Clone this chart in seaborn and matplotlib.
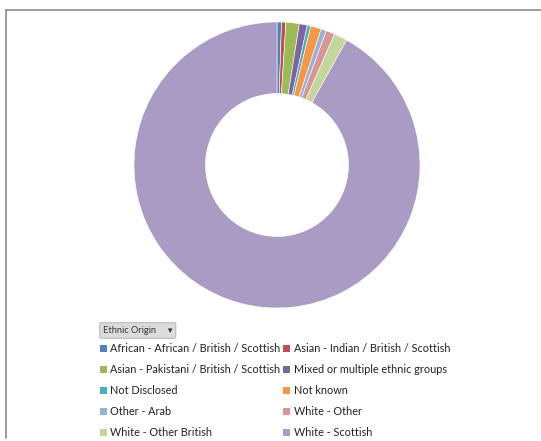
import matplotlib
matplotlib.use("Agg")
import matplotlib.pyplot as plt
import seaborn as sns
from matplotlib.patches import Patch
from matplotlib.lines import Line2D

sns.set_theme(style="white")
plt.rcParams['font.family'] = ['Lato', 'DejaVu Sans']

categories = [
    "African - African / British / Scottish",
    "Asian - Indian / British / Scottish",
    "Asian - Pakistani / British / Scottish",
    "Mixed or multiple ethnic groups",
    "Not Disclosed",
    "Not known",
    "Other - Arab",
    "White - Other",
    "White - Other British",
    "White - Scottish",
]
values = [0.5, 0.5, 1.5, 0.9, 0.4, 1.2, 0.6, 1.0, 1.5, 91.9]
colors = ["#4F81BD", "#C0504D", "#9BBB59", "#8064A2", "#4BACC6",
          "#F79646", "#95B3D7", "#D99694", "#C3D69B", "#A99BC4"]

W, H = 541, 441
fig = plt.figure(figsize=(W / 100, H / 100), dpi=100)

# frame lines (top and left)
fig.add_artist(Line2D([6 / W, 1], [1 - 10 / H, 1 - 10 / H], color="#8c8c8c", lw=1.2))
fig.add_artist(Line2D([6 / W, 6 / W], [1 - 10 / H, 1 - 438 / H], color="#8c8c8c", lw=1.2))

cx, cy, r = 277, 165, 143
ax = fig.add_axes([(cx - r) / W, (H - cy - r) / H, 2 * r / W, 2 * r / H])
ax.pie(values, colors=colors, startangle=90, counterclock=False, radius=1,
       wedgeprops=dict(width=0.5, edgecolor="white", linewidth=0.4))
ax.set_xlim(-1, 1)
ax.set_ylim(-1, 1)
ax.set_aspect("equal")
ax.axis("off")

# legend title button
fig.text(103 / W, 1 - 330.5 / H, "Ethnic Origin     \u25be", fontsize=6.7, color="#333333",
         va="center", ha="left",
         bbox=dict(boxstyle="round,pad=0.35,rounding_size=0.2", fc="#dcdcdc", ec="#b8b8b8", lw=0.8))

handles = [Patch(facecolor=c, edgecolor="none") for c in colors]
order = [0, 2, 4, 6, 8, 1, 3, 5, 7, 9]
fig.legend([handles[i] for i in order], [categories[i] for i in order], ncol=2, loc="upper left",
           bbox_to_anchor=(98 / W, 1 - 341 / H), frameon=False,
           fontsize=7.8, handlelength=0.6, handleheight=0.6, handletextpad=0.35,
           labelspacing=0.93, columnspacing=0.25, borderaxespad=0, borderpad=0.2,
           labelcolor="#222222")

fig.savefig("out.png", dpi=100, facecolor="white")
